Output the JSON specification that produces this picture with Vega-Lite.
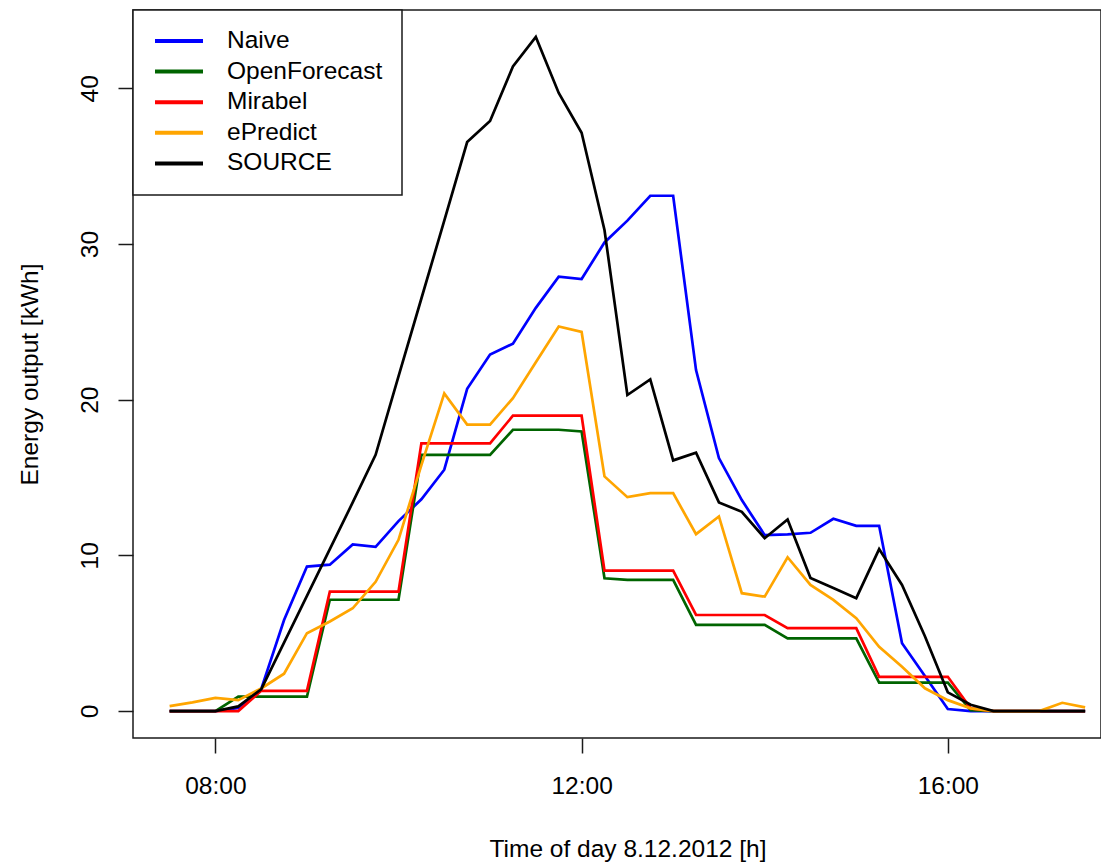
{
  "$schema": "https://vega.github.io/schema/vega-lite/v6.json",
  "width": 968,
  "height": 728,
  "autosize": {"type": "none"},
  "padding": {"left": 133, "top": 10, "right": 0, "bottom": 127},
  "background": "white",
  "config": {
    "view": {"stroke": "#1a1a1a", "strokeWidth": 1.5},
    "font": "Liberation Sans",
    "axis": {
      "domain": false,
      "grid": false,
      "ticks": true,
      "tickSize": 15,
      "tickColor": "#1a1a1a",
      "tickWidth": 1.5,
      "labelFont": "Liberation Sans",
      "labelFontSize": 24.5,
      "labelColor": "black",
      "labelFlush": false,
      "labelOverlap": false,
      "titleFont": "Liberation Sans",
      "titleFontSize": 24.5,
      "titleFontWeight": "normal",
      "titleColor": "black"
    },
    "legend": {
      "orient": "none",
      "legendX": 0,
      "legendY": 0,
      "direction": "vertical",
      "symbolType": "stroke",
      "symbolSize": 2304,
      "symbolStrokeWidth": 4,
      "clipHeight": 24,
      "rowPadding": 5.6,
      "padding": 19,
      "labelOffset": 22,
      "symbolOffset": 1,
      "labelFont": "Liberation Sans",
      "labelFontSize": 24.5,
      "labelColor": "black",
      "fillColor": "white",
      "strokeColor": "#1a1a1a",
      "strokeWidth": 1.5
    }
  },
  "data": {
    "format": {"parse": {"t": "date:'%H:%M'"}},
    "values": [
      {"t": "07:30", "Naive": 0, "OpenForecast": 0, "Mirabel": 0, "ePredict": 0.32, "SOURCE": 0},
      {"t": "07:45", "Naive": 0, "OpenForecast": 0, "Mirabel": 0, "ePredict": 0.56, "SOURCE": 0},
      {"t": "08:00", "Naive": 0, "OpenForecast": 0, "Mirabel": 0, "ePredict": 0.85, "SOURCE": 0},
      {"t": "08:15", "Naive": 0.2, "OpenForecast": 0.92, "Mirabel": 0, "ePredict": 0.7, "SOURCE": 0.3},
      {"t": "08:30", "Naive": 1.4, "OpenForecast": 0.92, "Mirabel": 1.3, "ePredict": 1.45, "SOURCE": 1.4},
      {"t": "08:45", "Naive": 5.85, "OpenForecast": 0.92, "Mirabel": 1.3, "ePredict": 2.4, "SOURCE": 4.4},
      {"t": "09:00", "Naive": 9.28, "OpenForecast": 0.92, "Mirabel": 1.3, "ePredict": 5.0, "SOURCE": 7.4},
      {"t": "09:15", "Naive": 9.4, "OpenForecast": 7.15, "Mirabel": 7.67, "ePredict": 5.75, "SOURCE": 10.4},
      {"t": "09:30", "Naive": 10.7, "OpenForecast": 7.15, "Mirabel": 7.67, "ePredict": 6.6, "SOURCE": 13.4},
      {"t": "09:45", "Naive": 10.55, "OpenForecast": 7.15, "Mirabel": 7.67, "ePredict": 8.3, "SOURCE": 16.46},
      {"t": "10:00", "Naive": 12.2, "OpenForecast": 7.15, "Mirabel": 7.67, "ePredict": 11.0, "SOURCE": 21.5},
      {"t": "10:15", "Naive": 13.6, "OpenForecast": 16.45, "Mirabel": 17.2, "ePredict": 15.8, "SOURCE": 26.5},
      {"t": "10:30", "Naive": 15.5, "OpenForecast": 16.45, "Mirabel": 17.2, "ePredict": 20.4, "SOURCE": 31.5},
      {"t": "10:45", "Naive": 20.7, "OpenForecast": 16.45, "Mirabel": 17.2, "ePredict": 18.4, "SOURCE": 36.55},
      {"t": "11:00", "Naive": 22.9, "OpenForecast": 16.45, "Mirabel": 17.2, "ePredict": 18.4, "SOURCE": 37.9},
      {"t": "11:15", "Naive": 23.6, "OpenForecast": 18.07, "Mirabel": 18.97, "ePredict": 20.1, "SOURCE": 41.4},
      {"t": "11:30", "Naive": 25.9, "OpenForecast": 18.07, "Mirabel": 18.97, "ePredict": 22.4, "SOURCE": 43.3},
      {"t": "11:45", "Naive": 27.9, "OpenForecast": 18.07, "Mirabel": 18.97, "ePredict": 24.7, "SOURCE": 39.7},
      {"t": "12:00", "Naive": 27.75, "OpenForecast": 17.96, "Mirabel": 18.97, "ePredict": 24.35, "SOURCE": 37.15},
      {"t": "12:15", "Naive": 30.1, "OpenForecast": 8.53, "Mirabel": 9.02, "ePredict": 15.07, "SOURCE": 30.9},
      {"t": "12:30", "Naive": 31.5, "OpenForecast": 8.42, "Mirabel": 9.02, "ePredict": 13.74, "SOURCE": 20.3},
      {"t": "12:45", "Naive": 33.1, "OpenForecast": 8.42, "Mirabel": 9.02, "ePredict": 14.0, "SOURCE": 21.3},
      {"t": "13:00", "Naive": 33.1, "OpenForecast": 8.42, "Mirabel": 9.02, "ePredict": 14.0, "SOURCE": 16.1},
      {"t": "13:15", "Naive": 21.9, "OpenForecast": 5.53, "Mirabel": 6.17, "ePredict": 11.36, "SOURCE": 16.6},
      {"t": "13:30", "Naive": 16.25, "OpenForecast": 5.53, "Mirabel": 6.17, "ePredict": 12.5, "SOURCE": 13.4},
      {"t": "13:45", "Naive": 13.55, "OpenForecast": 5.53, "Mirabel": 6.17, "ePredict": 7.57, "SOURCE": 12.8},
      {"t": "14:00", "Naive": 11.3, "OpenForecast": 5.53, "Mirabel": 6.17, "ePredict": 7.35, "SOURCE": 11.1},
      {"t": "14:15", "Naive": 11.35, "OpenForecast": 4.67, "Mirabel": 5.32, "ePredict": 9.88, "SOURCE": 12.3},
      {"t": "14:30", "Naive": 11.45, "OpenForecast": 4.67, "Mirabel": 5.32, "ePredict": 8.1, "SOURCE": 8.55},
      {"t": "14:45", "Naive": 12.35, "OpenForecast": 4.67, "Mirabel": 5.32, "ePredict": 7.14, "SOURCE": 7.9},
      {"t": "15:00", "Naive": 11.9, "OpenForecast": 4.67, "Mirabel": 5.32, "ePredict": 5.96, "SOURCE": 7.25},
      {"t": "15:15", "Naive": 11.9, "OpenForecast": 1.82, "Mirabel": 2.2, "ePredict": 4.13, "SOURCE": 10.4},
      {"t": "15:30", "Naive": 4.35, "OpenForecast": 1.82, "Mirabel": 2.2, "ePredict": 2.85, "SOURCE": 8.1},
      {"t": "15:45", "Naive": 2.25, "OpenForecast": 1.82, "Mirabel": 2.2, "ePredict": 1.46, "SOURCE": 4.8},
      {"t": "16:00", "Naive": 0.13, "OpenForecast": 1.82, "Mirabel": 2.2, "ePredict": 0.7, "SOURCE": 1.2},
      {"t": "16:15", "Naive": 0, "OpenForecast": 0.05, "Mirabel": 0.17, "ePredict": 0.17, "SOURCE": 0.4},
      {"t": "16:30", "Naive": 0, "OpenForecast": 0, "Mirabel": 0, "ePredict": 0, "SOURCE": 0},
      {"t": "16:45", "Naive": 0, "OpenForecast": 0, "Mirabel": 0, "ePredict": 0, "SOURCE": 0},
      {"t": "17:00", "Naive": 0, "OpenForecast": 0, "Mirabel": 0, "ePredict": 0, "SOURCE": 0},
      {"t": "17:15", "Naive": 0, "OpenForecast": 0, "Mirabel": 0, "ePredict": 0.53, "SOURCE": 0},
      {"t": "17:30", "Naive": 0, "OpenForecast": 0, "Mirabel": 0, "ePredict": 0.24, "SOURCE": 0}
    ]
  },
  "transform": [
    {"fold": ["Naive", "OpenForecast", "Mirabel", "ePredict", "SOURCE"], "as": ["model", "kwh"]}
  ],
  "mark": {"type": "line", "strokeWidth": 2.7, "clip": true},
  "encoding": {
    "x": {
      "field": "t",
      "type": "temporal",
      "scale": {
        "domain": [
          {"year": 1900, "month": 1, "date": 1, "hours": 7, "minutes": 6},
          {"year": 1900, "month": 1, "date": 1, "hours": 17, "minutes": 40, "seconds": 24}
        ],
        "nice": false
      },
      "axis": {
        "values": [
          {"year": 1900, "month": 1, "date": 1, "hours": 8},
          {"year": 1900, "month": 1, "date": 1, "hours": 12},
          {"year": 1900, "month": 1, "date": 1, "hours": 16}
        ],
        "format": "%H:%M",
        "labelBaseline": "alphabetic",
        "labelAlign": "center",
        "labelPadding": 40,
        "title": "Time of day 8.12.2012 [h]",
        "titleX": 494.5,
        "titleY": 118,
        "titleAlign": "center",
        "titleBaseline": "alphabetic"
      }
    },
    "y": {
      "field": "kwh",
      "type": "quantitative",
      "scale": {"domain": [-1.732, 45.032], "nice": false, "zero": false},
      "axis": {
        "values": [0, 10, 20, 30, 40],
        "labelAngle": -90,
        "labelAlign": "center",
        "labelBaseline": "alphabetic",
        "labelPadding": 21,
        "title": "Energy output [kWh]",
        "titleAngle": -90,
        "titleX": -96,
        "titleY": 364,
        "titleAlign": "center",
        "titleBaseline": "alphabetic"
      }
    },
    "color": {
      "field": "model",
      "type": "nominal",
      "scale": {
        "domain": ["Naive", "OpenForecast", "Mirabel", "ePredict", "SOURCE"],
        "range": ["#0000FF", "#006400", "#FF0000", "#FFA500", "#000000"]
      },
      "legend": {"title": null}
    }
  }
}
